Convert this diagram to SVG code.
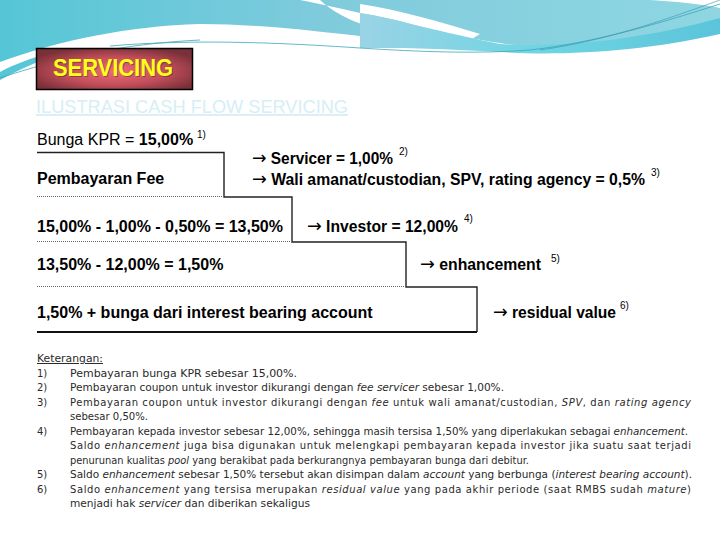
<svg xmlns="http://www.w3.org/2000/svg" width="720" height="540" viewBox="0 0 720 540">
<defs>
<linearGradient id="teal" x1="0" y1="0" x2="1" y2="0">
<stop offset="0" stop-color="#55c6d6"/>
<stop offset="0.45" stop-color="#7fcbdc"/>
<stop offset="1" stop-color="#8fd6e2"/>
</linearGradient>
<linearGradient id="teal2" x1="0" y1="0" x2="1" y2="0">
<stop offset="0" stop-color="#9ad3e6"/>
<stop offset="0.5" stop-color="#6fd5e2"/>
<stop offset="1" stop-color="#5cc4da"/>
</linearGradient>
<radialGradient id="red" cx="0.5" cy="0.55" r="0.6">
<stop offset="0" stop-color="#ee6b78"/>
<stop offset="0.55" stop-color="#c44f5c"/>
<stop offset="1" stop-color="#7a3038"/>
</radialGradient>
<style>
.tb{font-family:"Liberation Sans",Arial,sans-serif;font-size:16px;fill:#000}
.b{font-weight:bold}
.ar{font-family:"DejaVu Sans",sans-serif;font-weight:normal;font-size:18px}
.sup{font-family:"Liberation Sans",Arial,sans-serif;font-size:10px;fill:#000}
.solid{stroke:#222;stroke-width:1.4;fill:none}
.dot{stroke:#666;stroke-width:1;stroke-dasharray:1 1;fill:none}
.nt{font-family:"DejaVu Sans",Verdana,sans-serif;font-size:10px;fill:#2a2a2a}
.i{font-style:italic}
</style>
</defs>
<rect width="720" height="540" fill="#ffffff"/>
<g id="background">
<path d="M0,0 H720 V30 C640,44 580,50 510,46 C440,42 410,38 360,38 C300,36 250,26 200,26 C130,26 60,48 0,80 Z" fill="url(#teal)"/>
<path d="M300,0 C340,8 400,22 460,36 C490,42 505,44 515,45 C470,46 420,40 380,30 C350,22 330,10 320,0 Z" fill="#ffffff"/>
<path d="M360,4 C400,10 440,22 480,34 L470,40 C430,30 395,18 360,13 Z" fill="#ffffff"/>
<path d="M360,13 C400,20 440,32 500,44 C560,48 640,40 720,18 V34 C640,52 560,56 500,52 C430,48 400,48 360,48 Z" fill="url(#teal2)"/>
<path d="M0,62 C60,40 130,26 200,24 C260,24 320,32 360,36 L360,46 C300,46 250,44 110,44 C70,46 30,56 0,72 Z" fill="#ffffff"/>
<path d="M650,0 C680,2 700,4 720,8 V0 Z" fill="#ffffff"/>
<path d="M110,46 C200,38 300,44 360,48 C420,52 480,54 530,50 C600,42 670,20 720,4" fill="none" stroke="#3aa8b8" stroke-width="0.8"/>
<path d="M0,78 C60,58 120,44 200,40" fill="none" stroke="#3aa8b8" stroke-width="0.8"/>
<path d="M540,50 C610,40 670,18 720,0" fill="none" stroke="#3a8fb0" stroke-width="0.6"/>
</g>
<g id="servicing-title">
<rect x="36.5" y="48.5" width="156" height="41" fill="url(#red)" stroke="#000" stroke-width="1.5"/>
<text x="53" y="76" font-family="'Liberation Sans',Arial,sans-serif" font-size="23" font-weight="bold" fill="#1a1a1a" opacity="0.35" textLength="120" lengthAdjust="spacingAndGlyphs" transform="translate(1,1)">SERVICING</text>
<text x="53" y="76" font-family="'Liberation Sans',Arial,sans-serif" font-size="23" font-weight="bold" fill="#ffff1a" textLength="120" lengthAdjust="spacingAndGlyphs">SERVICING</text>
</g>
<g id="subtitle">
<text x="36" y="113" font-family="'Liberation Sans',Arial,sans-serif" font-size="18" fill="#d6eef5" text-decoration="underline" textLength="312" lengthAdjust="spacingAndGlyphs">ILUSTRASI CASH FLOW SERVICING</text>
</g>
<g id="connectors">
<path class="solid" d="M37,152.5 H224 V197 H292 V242 H406 V287 H477 V332"/>
<line class="dot" x1="37" y1="196.5" x2="224" y2="196.5"/>
<line class="dot" x1="37" y1="241.5" x2="292" y2="241.5"/>
<line class="dot" x1="37" y1="286.5" x2="406" y2="286.5"/>
<line x1="37" y1="332" x2="477" y2="332" stroke="#111" stroke-width="2"/>
</g>
<g id="row-bunga">
<text class="tb" x="37" y="145">Bunga KPR = <tspan class="b">15,00%</tspan></text>
<text class="sup" x="197" y="138">1)</text>
</g>
<g id="row-fee">
<text class="tb b" x="37" y="184">Pembayaran Fee</text>
<text class="tb b" x="252" y="164" textLength="141" lengthAdjust="spacingAndGlyphs"><tspan class="ar">→</tspan> Servicer = 1,00%</text>
<text class="sup" x="399" y="155">2)</text>
<text class="tb b" x="252" y="185" textLength="393" lengthAdjust="spacingAndGlyphs"><tspan class="ar">→</tspan> Wali amanat/custodian, SPV, rating agency = 0,5%</text>
<text class="sup" x="651" y="176">3)</text>
</g>
<g id="row-investor">
<text class="tb b" x="37" y="232">15,00% - 1,00% - 0,50% = 13,50%</text>
<text class="tb b" x="307" y="232" textLength="151" lengthAdjust="spacingAndGlyphs"><tspan class="ar">→</tspan> Investor = 12,00%</text>
<text class="sup" x="464" y="222">4)</text>
</g>
<g id="row-enhancement">
<text class="tb b" x="37" y="270">13,50% - 12,00% = 1,50%</text>
<text class="tb b" x="420" y="270" textLength="121" lengthAdjust="spacingAndGlyphs"><tspan class="ar">→</tspan> enhancement</text>
<text class="sup" x="551" y="262">5)</text>
</g>
<g id="row-residual">
<text class="tb b" x="37" y="318">1,50% + bunga dari interest bearing account</text>
<text class="tb b" x="493" y="318" textLength="123" lengthAdjust="spacingAndGlyphs"><tspan class="ar">→</tspan> residual value</text>
<text class="sup" x="620" y="309">6)</text>
</g>
<g id="notes">
<text class="nt" x="37" y="362" text-decoration="underline" textLength="66" lengthAdjust="spacingAndGlyphs">Keterangan:</text>
<text class="nt" x="37" y="376.5">1)</text>
<text class="nt" x="70" y="376.5" textLength="227" lengthAdjust="spacingAndGlyphs">Pembayaran bunga KPR sebesar 15,00%.</text>
<text class="nt" x="37" y="391">2)</text>
<text class="nt" x="70" y="391" textLength="434" lengthAdjust="spacingAndGlyphs">Pembayaran coupon untuk investor dikurangi dengan <tspan class="i">fee servicer</tspan> sebesar 1,00%.</text>
<text class="nt" x="37" y="405.5">3)</text>
<text class="nt" x="70" y="405.5" textLength="621" lengthAdjust="spacing">Pembayaran coupon untuk investor dikurangi dengan <tspan class="i">fee</tspan> untuk wali amanat/custodian, <tspan class="i">SPV</tspan>, dan <tspan class="i">rating agency</tspan></text>
<text class="nt" x="70" y="420" textLength="78" lengthAdjust="spacingAndGlyphs">sebesar 0,50%.</text>
<text class="nt" x="37" y="434.5">4)</text>
<text class="nt" x="70" y="434.5" textLength="618" lengthAdjust="spacingAndGlyphs">Pembayaran kepada investor sebesar 12,00%, sehingga masih tersisa 1,50% yang diperlakukan sebagai <tspan class="i">enhancement</tspan>.</text>
<text class="nt" x="70" y="449" textLength="621" lengthAdjust="spacing">Saldo <tspan class="i">enhancement</tspan> juga bisa digunakan untuk melengkapi pembayaran kepada investor jika suatu saat terjadi</text>
<text class="nt" x="70" y="463.5" textLength="459" lengthAdjust="spacingAndGlyphs">penurunan kualitas <tspan class="i">pool</tspan> yang berakibat pada berkurangnya pembayaran bunga dari debitur.</text>
<text class="nt" x="37" y="478">5)</text>
<text class="nt" x="70" y="478" textLength="622" lengthAdjust="spacingAndGlyphs">Saldo <tspan class="i">enhancement</tspan> sebesar 1,50% tersebut akan disimpan dalam <tspan class="i">account</tspan> yang berbunga (<tspan class="i">interest bearing account</tspan>).</text>
<text class="nt" x="37" y="492.5">6)</text>
<text class="nt" x="70" y="492.5" textLength="621" lengthAdjust="spacing">Saldo <tspan class="i">enhancement</tspan> yang tersisa merupakan <tspan class="i">residual value</tspan> yang pada akhir periode (saat RMBS sudah <tspan class="i">mature</tspan>)</text>
<text class="nt" x="70" y="507" textLength="240" lengthAdjust="spacingAndGlyphs">menjadi hak <tspan class="i">servicer</tspan> dan diberikan sekaligus</text>
</g>
</svg>
